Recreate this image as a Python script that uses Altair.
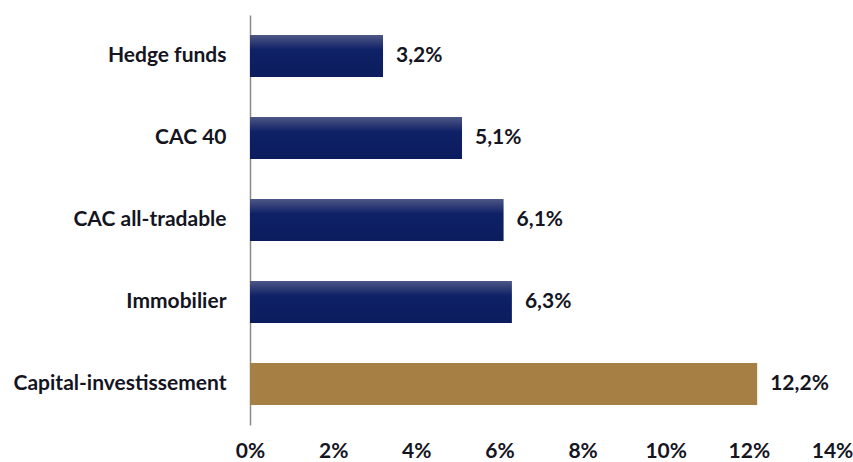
import altair as alt
import pandas as pd

categories = ["Hedge funds", "CAC 40", "CAC all-tradable", "Immobilier", "Capital-investissement"]
values = [3.2, 5.1, 6.1, 6.3, 12.2]
labels = ["3,2%", "5,1%", "6,1%", "6,3%", "12,2%"]
groups = ["navy", "navy", "navy", "navy", "gold"]
x_ticks = [0, 2, 4, 6, 8, 10, 12, 14]

df = pd.DataFrame({"cat": categories, "val": values, "lab": labels, "grp": groups})

FONT = "Lato"
TXT = "#15151f"
FS = 21

y_enc = alt.Y("cat:N", sort=categories, title=None,
              scale=alt.Scale(paddingInner=0.49, paddingOuter=0.245),
              axis=alt.Axis(labelFont=FONT, labelFontWeight="bold", labelFontSize=FS,
                            labelColor=TXT, labelPadding=24, ticks=False,
                            domainColor="#8a8a8a", domainWidth=1.5, labelLimit=300))
x_enc = alt.X("val:Q", title=None,
              scale=alt.Scale(domain=[0, 14], nice=False),
              axis=alt.Axis(values=x_ticks, labelExpr="datum.value + '%'",
                            labelFont=FONT, labelFontWeight="bold", labelFontSize=FS,
                            labelColor=TXT, labelPadding=15, ticks=False, domain=False,
                            grid=False, labelFlush=False, labelBound=False))

base = alt.Chart(df)

navy_grad = alt.Gradient(
    gradient="linear", x1=0, y1=0, x2=0, y2=1,
    stops=[alt.GradientStop(offset=0, color="#4d5786"),
           alt.GradientStop(offset=0.35, color="#0f2166"),
           alt.GradientStop(offset=1, color="#0b1d5e")])

navy = base.transform_filter(alt.datum.grp == "navy").mark_bar(color=navy_grad).encode(x=x_enc, y=y_enc)
gold = base.transform_filter(alt.datum.grp == "gold").mark_bar(color="#a67f45").encode(x=x_enc, y=y_enc)
text = base.mark_text(align="left", baseline="middle", dx=13, font=FONT, fontWeight="bold",
                      fontSize=FS, color=TXT).encode(x=x_enc, y=y_enc, text="lab:N")

chart = alt.layer(navy, gold, text).properties(
    width=582, height=410,
    autosize=alt.AutoSizeParams(type="none"),
    padding={"left": 250, "top": 15, "right": 21, "bottom": 37},
    background="white",
).configure_view(stroke=None)

chart.save("out.html", embed_options={"renderer": "svg", "actions": False})
